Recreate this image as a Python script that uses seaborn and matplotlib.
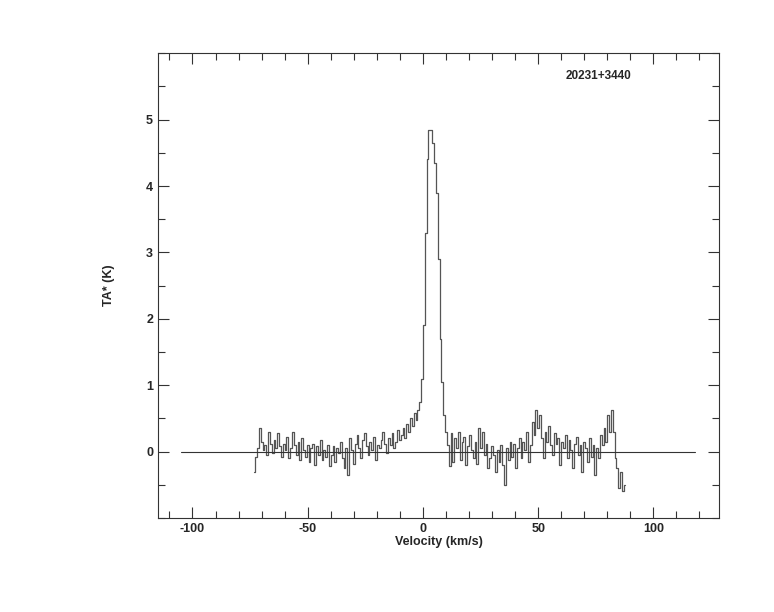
import numpy as np
import pandas as pd
import seaborn as sns
import matplotlib.pyplot as plt
from matplotlib.ticker import MultipleLocator

# spectrum channels (km/s)
v_start = -73.2
v_step = 0.8

# antenna temperature TA* (K)
ta = [
    -0.30, -0.08, 0.05, 0.35, 0.15, 0.02, 0.10, -0.05, 0.30, 0.12,
    -0.02, 0.18, 0.05, 0.28, 0.08, -0.08, 0.12, 0.02, 0.22, -0.10,
    0.05, 0.30, 0.10, -0.05, 0.15, -0.12, 0.20, 0.02, -0.08, 0.10,
    -0.15, 0.05, 0.12, -0.20, 0.08, -0.05, 0.18, -0.12, 0.02, -0.08,
    0.10, -0.22, -0.05, 0.08, -0.15, 0.05, -0.02, 0.15, -0.10, -0.25,
    0.05, -0.35, 0.20, 0.02, -0.18, 0.12, 0.25, 0.05, -0.10, 0.18,
    0.28, 0.08, -0.05, 0.15, 0.02, 0.22, -0.12, 0.10, 0.05, 0.18,
    0.30, 0.12, -0.02, 0.20, 0.10, 0.28, 0.05, 0.15, 0.32, 0.18,
    0.25, 0.35, 0.20, 0.42, 0.30, 0.50, 0.38, 0.58, 0.48, 0.62,
    0.75, 1.10, 1.90, 3.30, 4.40, 4.85, 4.85, 4.65, 4.35, 3.90,
    2.90, 1.70, 1.05, 0.55, 0.30, 0.10, -0.22, 0.28, -0.15, 0.20,
    0.05, 0.30, -0.12, 0.15, 0.22, -0.20, 0.08, 0.25, 0.02, -0.10,
    0.15, -0.18, 0.35, 0.05, 0.30, -0.05, 0.12, -0.25, -0.10, 0.08,
    -0.05, -0.30, 0.02, -0.15, 0.10, -0.20, -0.50, 0.05, -0.12, 0.15,
    -0.08, 0.12, -0.25, 0.05, 0.20, -0.10, 0.15, 0.02, 0.30, -0.15,
    0.10, 0.45, 0.25, 0.62, 0.35, 0.55, 0.20, -0.10, 0.30, 0.15,
    0.38, 0.10, -0.05, 0.28, 0.12, 0.20, -0.20, 0.15, 0.05, 0.25,
    -0.10, 0.18, 0.02, -0.25, 0.12, 0.22, -0.05, 0.10, -0.30, 0.15,
    0.05, -0.15, 0.20, -0.08, 0.10, -0.35, 0.05, -0.10, 0.25, 0.10,
    0.35, 0.15, 0.55, 0.30, 0.62, 0.30, -0.10, -0.25, -0.55, -0.30,
    -0.60, -0.50,
]

baseline_v = [-105, 118]
baseline_t = [0, 0]
source = "20231+3440"

df = pd.DataFrame({"v": v_start + v_step * np.arange(len(ta)), "ta": ta})

sns.set_style("ticks")
plt.rcParams['font.family'] = ['Liberation Sans', 'DejaVu Sans']
plt.rcParams['font.weight'] = 'bold'
plt.rcParams['axes.unicode_minus'] = False

fig = plt.figure(figsize=(7.74, 6.12), dpi=100)
ax = fig.add_axes([0.204, 0.1536, 0.725, 0.7594])

sns.lineplot(data=df, x="v", y="ta", ax=ax, estimator=None, sort=False,
             drawstyle="steps-mid", color="#555555", linewidth=0.9)
ax.plot(baseline_v, baseline_t, color="#333333", linewidth=0.8)

ax.set_xlim(-115, 128.5)
ax.set_ylim(-1, 6)
ax.xaxis.set_major_locator(MultipleLocator(50))
ax.xaxis.set_minor_locator(MultipleLocator(10))
ax.set_yticks([0, 1, 2, 3, 4, 5])
ax.yaxis.set_minor_locator(MultipleLocator(0.5))

ax.tick_params(which="both", direction="in", top=True, right=True,
               labelsize=9, width=0.8, color="#333333")
ax.tick_params(which="major", length=8)
ax.tick_params(which="minor", length=5)
for lab in ax.get_xticklabels() + ax.get_yticklabels():
    lab.set_fontweight("bold")
for sp in ax.spines.values():
    sp.set_linewidth(0.8)
    sp.set_color("#333333")

ax.set_xlabel("Velocity (km/s)", fontsize=9, fontweight="bold", labelpad=1)
ax.set_ylabel("TA* (K)", fontsize=9, fontweight="bold", labelpad=22)
ax.text(0.785, 0.95, source, transform=ax.transAxes, fontsize=8.5,
        fontweight="bold", ha="center", va="center")

fig.savefig("out.png", dpi=100, facecolor="white")
